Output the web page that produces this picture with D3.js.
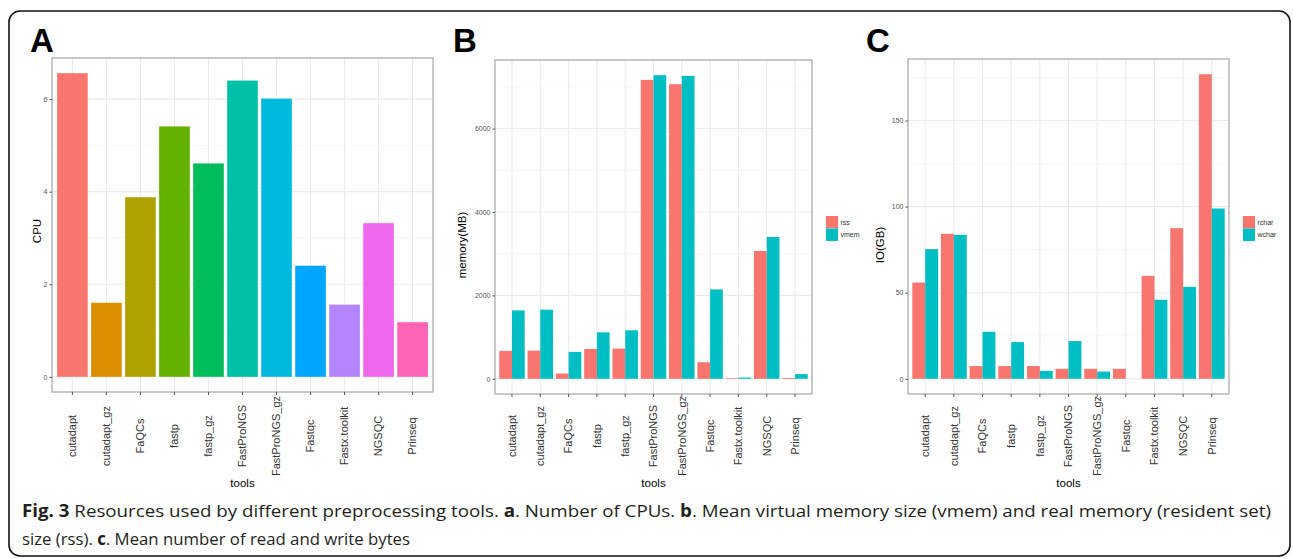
<!DOCTYPE html>
<html>
<head>
<meta charset="utf-8">
<script src="https://cdn.jsdelivr.net/npm/d3@7"></script>
<style>
  body { margin: 0; background: #fff; }
  svg { display: block; font-family: "Liberation Sans", Arial, sans-serif; }
</style>
</head>
<body>
<div id="fig"></div>
<script>
// Tools on the x axis (same order in all three panels)
var tools = ["cutadapt", "cutadapt_gz", "FaQCs", "fastp", "fastp_gz", "FastProNGS",
    "FastProNGS_gz", "Fastqc", "Fastx.toolkit", "NGSQC", "Prinseq"];

// Panel A: number of CPUs
var cpu = [6.56, 1.60, 3.88, 5.41, 4.61, 6.40, 6.01, 2.40, 1.56, 3.32, 1.18];

// Panel B: memory (MB)
var rss = [669, 677, 127, 717, 725, 7168, 7065, 398, 15, 3066, 20];
var vmem = [1641, 1657, 645, 1115, 1163, 7280, 7264, 2143, 30, 3400, 112];

// Panel C: IO (GB)
var rchar = [55.9, 84.2, 7.4, 7.4, 7.4, 5.8, 5.8, 5.8, 59.8, 87.5, 176.9];
var wchar = [75.3, 83.6, 27.3, 21.3, 4.6, 21.9, 4.2, 0, 45.9, 53.4, 98.9];

// ggplot default hue palettes
var hue11 = ["#F8766D", "#DB8E00", "#AEA200", "#64B200", "#00BD5C", "#00C1A7",
    "#00BADE", "#00A6FF", "#B385FF", "#EF67EB", "#FF63B6"];
var hue2 = ["#F8766D", "#00BFC4"];

var width = 1293;
var height = 559;

var svg = d3.select("#fig")
    .append("svg")
    .attr("width", width)
    .attr("height", height);

// Outer frame with rounded corners
svg.append("rect")
    .attr("x", 9)
    .attr("y", 11)
    .attr("width", 1281)
    .attr("height", 545)
    .attr("rx", 11)
    .attr("fill", "none")
    .attr("stroke", "#111")
    .attr("stroke-width", 1.6);

// draws one ggplot-like panel; series is a list of {name, values}
function drawPanel(p) {
    var g = svg.append("g");

    var maxVal = d3.max(p.series, function (s) { return d3.max(s.values); });
    var y = d3.scaleLinear()
        .domain([-0.05 * maxVal, maxVal * 1.05])
        .range([p.bottom, p.top]);

    var x = d3.scaleBand()
        .domain(tools)
        .range([p.left, p.right])
        .paddingInner(0.1)
        .paddingOuter(0.15);

    var sub = d3.scaleBand()
        .domain(p.series.map(function (s) { return s.name; }))
        .range([0, x.bandwidth()]);

    var majors = y.ticks(4);
    var step = majors[1] - majors[0];
    var minors = d3.range(majors[0] - step / 2, y.domain()[1], step)
        .filter(function (v) { return v > y.domain()[0]; });

    // grid
    g.selectAll("line.minor")
        .data(minors)
        .enter()
        .append("line")
        .attr("x1", p.left).attr("x2", p.right)
        .attr("y1", function (d) { return y(d); })
        .attr("y2", function (d) { return y(d); })
        .attr("stroke", "#f2f2f2")
        .attr("stroke-width", 0.6);

    g.selectAll("line.major")
        .data(majors)
        .enter()
        .append("line")
        .attr("x1", p.left).attr("x2", p.right)
        .attr("y1", function (d) { return y(d); })
        .attr("y2", function (d) { return y(d); })
        .attr("stroke", "#ebebeb")
        .attr("stroke-width", 1.1);

    g.selectAll("line.vgrid")
        .data(tools)
        .enter()
        .append("line")
        .attr("x1", function (d) { return x(d) + x.bandwidth() / 2; })
        .attr("x2", function (d) { return x(d) + x.bandwidth() / 2; })
        .attr("y1", p.top).attr("y2", p.bottom)
        .attr("stroke", "#ebebeb")
        .attr("stroke-width", 1.1);

    // bars
    p.series.forEach(function (s, si) {
        g.selectAll("rect.s" + si)
            .data(s.values)
            .enter()
            .append("rect")
            .attr("x", function (d, i) { return x(tools[i]) + sub(s.name); })
            .attr("width", sub.bandwidth())
            .attr("y", function (d) { return y(Math.max(d, 0)); })
            .attr("height", function (d) { return Math.abs(y(d) - y(0)); })
            .attr("fill", function (d, i) { return p.colors ? p.colors[i] : s.color; });
    });

    // panel border
    g.append("rect")
        .attr("x", p.left).attr("y", p.top)
        .attr("width", p.right - p.left)
        .attr("height", p.bottom - p.top)
        .attr("fill", "none")
        .attr("stroke", "#a6a6a6")
        .attr("stroke-width", 1.2);

    // y axis
    var yAxis = d3.axisLeft(y)
        .tickValues(majors)
        .tickFormat(d3.format("d"))
        .tickSize(2.5)
        .tickPadding(2);
    var ya = g.append("g")
        .attr("transform", "translate(" + p.left + ",0)")
        .call(yAxis);
    ya.select(".domain").remove();
    ya.selectAll("line").attr("stroke", "#555");
    ya.selectAll("text")
        .attr("fill", "#555")
        .style("font-size", "7px");

    // x axis
    var xAxis = d3.axisBottom(x)
        .tickSize(3)
        .tickFormat("");
    var xa = g.append("g")
        .attr("transform", "translate(0," + p.bottom + ")")
        .call(xAxis);
    xa.select(".domain").remove();
    xa.selectAll("line").attr("stroke", "#555");

    g.selectAll("text.xlab")
        .data(tools)
        .enter()
        .append("text")
        .attr("class", "xlab")
        .attr("transform", function (d) {
            return "translate(" + (x(d) + x.bandwidth() / 2) + ",436) rotate(-90)";
        })
        .attr("text-anchor", "middle")
        .attr("dy", "0.35em")
        .attr("fill", "#333")
        .style("font-size", "11px")
        .text(function (d) { return d; });

    // axis titles
    g.append("text")
        .attr("x", (p.left + p.right) / 2)
        .attr("y", 487)
        .attr("text-anchor", "middle")
        .style("font-size", "11.5px")
        .text("tools");

    g.append("text")
        .attr("transform", "translate(" + p.ytitleX + "," + p.ytitleY + ") rotate(-90)")
        .attr("text-anchor", "middle")
        .attr("dy", "0.35em")
        .style("font-size", "11.5px")
        .text(p.ytitle);

    // panel letter
    g.append("text")
        .attr("x", p.letterX)
        .attr("y", 52)
        .style("font-size", "33px")
        .style("font-weight", "bold")
        .text(p.letter);

    // legend
    if (p.legendX) {
        p.series.forEach(function (s, si) {
            g.append("rect")
                .attr("x", p.legendX)
                .attr("y", 216 + si * 12.5)
                .attr("width", 12)
                .attr("height", 12.5)
                .attr("fill", s.color);
            g.append("text")
                .attr("x", p.legendX + 14.5)
                .attr("y", 222.5 + si * 12.5)
                .attr("dy", "0.35em")
                .attr("fill", "#333")
                .style("font-size", "7px")
                .text(s.name);
        });
    }
}

drawPanel({
    letter: "A", letterX: 30,
    left: 52, right: 433, top: 58, bottom: 392,
    ytitle: "CPU", ytitleX: 37, ytitleY: 231,
    series: [{ name: "cpu", values: cpu }],
    colors: hue11
});

drawPanel({
    letter: "B", letterX: 453,
    left: 495, right: 812, top: 60, bottom: 394,
    ytitle: "memory(MB)", ytitleX: 462, ytitleY: 245,
    series: [{ name: "rss", values: rss, color: hue2[0] },
             { name: "vmem", values: vmem, color: hue2[1] }],
    legendX: 826
});

drawPanel({
    letter: "C", letterX: 866,
    left: 908, right: 1229, top: 59, bottom: 394,
    ytitle: "IO(GB)", ytitleX: 880, ytitleY: 245,
    series: [{ name: "rchar", values: rchar, color: hue2[0] },
             { name: "wchar", values: wchar, color: hue2[1] }],
    legendX: 1243
});

// Caption
var cap = svg.append("g")
    .style("font-family", "'Open Sans', 'Noto Sans', sans-serif")
    .style("font-size", "17px")
    .attr("fill", "#231f20");

var line1 = cap.append("text")
    .attr("x", 22)
    .attr("y", 517)
    .attr("textLength", 1249)
    .attr("lengthAdjust", "spacingAndGlyphs");
line1.append("tspan").style("font-weight", "bold").text("Fig. 3");
line1.append("tspan").text(" Resources used by different preprocessing tools. ");
line1.append("tspan").style("font-weight", "bold").text("a");
line1.append("tspan").text(". Number of CPUs. ");
line1.append("tspan").style("font-weight", "bold").text("b");
line1.append("tspan").text(". Mean virtual memory size (vmem) and real memory (resident set)");

var line2 = cap.append("text")
    .attr("x", 22)
    .attr("y", 545)
    .attr("textLength", 388)
    .attr("lengthAdjust", "spacingAndGlyphs");
line2.append("tspan").text("size (rss). ");
line2.append("tspan").style("font-weight", "bold").text("c");
line2.append("tspan").text(". Mean number of read and write bytes");
</script>
</body>
</html>
